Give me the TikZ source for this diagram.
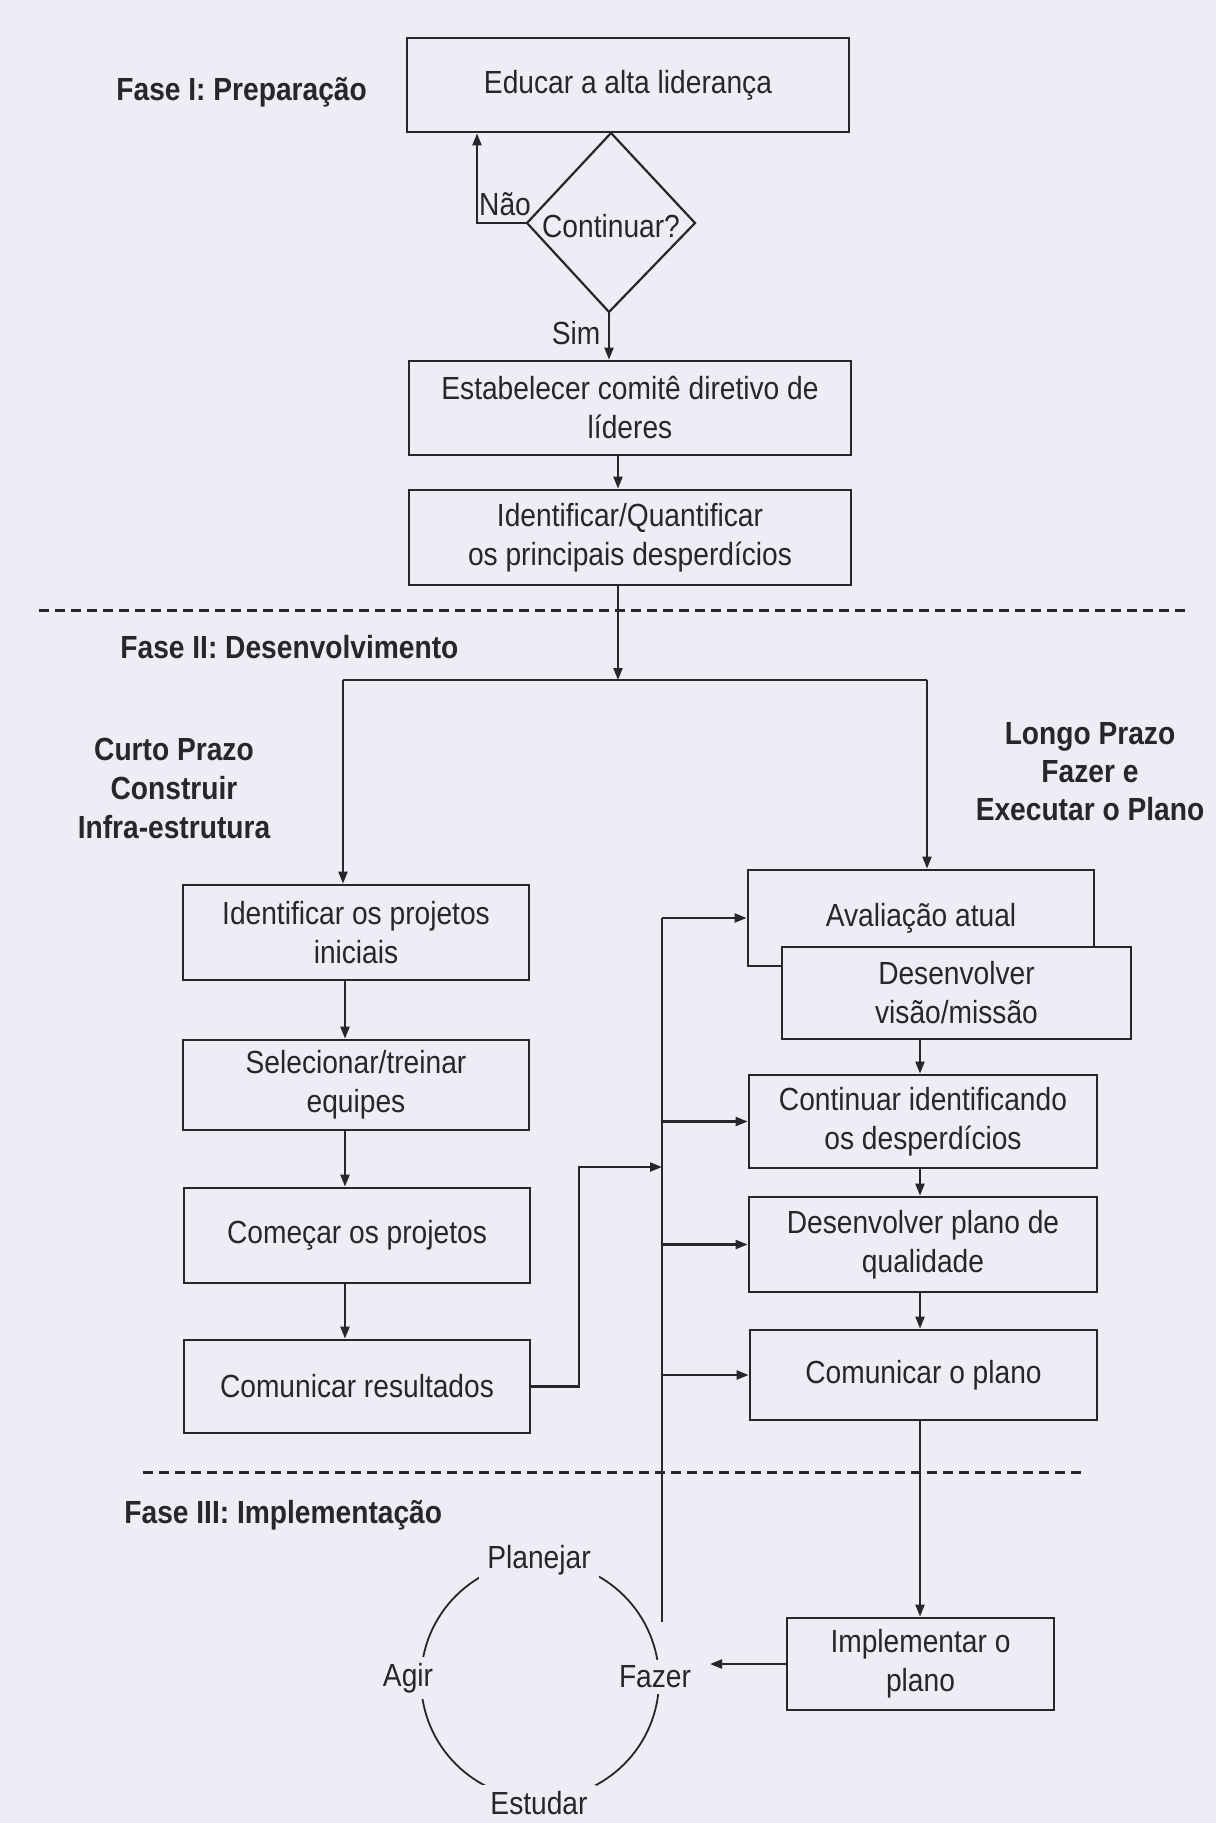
\documentclass[tikz,border=0pt]{standalone}
\usepackage{fontspec}
\setmainfont{Liberation Sans}[FakeStretch=0.88]
\usetikzlibrary{arrows.meta,calc}
\definecolor{bg}{RGB}{237,237,245}
\definecolor{ink}{RGB}{38,38,44}
\begin{document}
\begin{tikzpicture}[x=0.5pt,y=-0.5pt,
  box/.style={draw=ink, fill=bg, line width=1.4pt, align=center, inner sep=0pt, text=ink,
              font=\fontsize{16}{19.5}\selectfont},
  lbl/.style={text=ink, font=\fontsize{16}{19.5}\selectfont, inner sep=0pt, align=center},
  cyc/.style={lbl, fill=bg, inner xsep=4pt, inner ysep=3pt},
  hdr/.style={text=ink, font=\fontsize{16}{19.5}\selectfont\bfseries, inner sep=0pt, align=center},
  arr/.style={draw=ink, line width=1.1pt, -{Triangle[length=6pt,width=4.5pt]}},
  ln/.style={draw=ink, line width=1.1pt},
  sepline/.style={draw=ink, line width=1.5pt, dash pattern=on 5pt off 3pt}]

\fill[bg] (0,0) rectangle (1216,1823);
\useasboundingbox (0,0) rectangle (1216,1823);

% ---------- Fase I ----------
\node[hdr, anchor=west] (f1) at (116,92) {Fase I: Preparação};
\node[box, minimum width=221pt, minimum height=47pt] (B1) at (628,85) {Educar a alta liderança};

\coordinate (Dt) at (611,133);
\coordinate (Dr) at (695,223);
\coordinate (Db) at (609,312);
\coordinate (Dl) at (527,223);
\draw[ln, fill=bg] (Dt) -- (Dr) -- (Db) -- (Dl) -- cycle;
\node[lbl] (D) at (611,226) {Continuar?};

\node[lbl] (nao) at (505,204) {Não};
\coordinate (n1) at (477,223);
\draw[arr] (Dl) -- (n1) -- (n1 |- B1.south);

\node[lbl] (sim) at (576,333) {Sim};
\node[box, minimum width=221pt, minimum height=47pt] (B2) at (630,408)
  {Estabelecer comitê diretivo de\\líderes};
\draw[arr] (Db) -- (Db |- B2.north);

\node[box, minimum width=221pt, minimum height=47.5pt] (B3) at (630,537.5)
  {Identificar/Quantificar\\os principais desperdícios};
\coordinate (mc) at (618,0);
\draw[arr] (B2.south -| mc) -- (B3.north -| mc);

\coordinate (d1a) at (39,610);
\coordinate (d1b) at (1190,610);
\draw[sepline] (d1a) -- (d1b);

% ---------- Fase II ----------
\node[hdr, anchor=west] (f2) at (120,647) {Fase II: Desenvolvimento};
\node[hdr] (cp) at (174,788) {Curto Prazo\\Construir\\Infra-estrutura};
\node[hdr, font=\fontsize{16}{19}\selectfont\bfseries] (lp) at (1090,772)
  {Longo Prazo\\Fazer e\\Executar o Plano};

% left column
\node[box, minimum width=173pt, minimum height=47.5pt] (L1) at (356,932.5) {Identificar os projetos\\iniciais};
\node[box, minimum width=173pt, minimum height=45pt] (L2) at (356,1085) {Selecionar/treinar\\equipes};
\node[box, minimum width=173pt, minimum height=47.5pt] (L3) at (357,1235.5) {Começar os projetos};
\node[box, minimum width=173pt, minimum height=46.5pt] (L4) at (357,1386.5) {Comunicar resultados};

% right column
\node[box, minimum width=173pt, minimum height=48pt] (R1) at (921,918) {Avaliação atual};
\node[box, minimum width=174.5pt, minimum height=46pt] (R2) at (956.5,993) {Desenvolver\\visão/missão};
\node[box, minimum width=174pt, minimum height=46.5pt] (R3) at (923,1121.5) {Continuar identificando\\os desperdícios};
\node[box, minimum width=174pt, minimum height=47.5pt] (R4) at (923,1244.5) {Desenvolver plano de\\qualidade};
\node[box, minimum width=173.5pt, minimum height=45pt] (R5) at (923.5,1375) {Comunicar o plano};

% split
\coordinate (sp) at (618,680);
\coordinate (spL) at (343,680);
\coordinate (spR) at (927,680);
\draw[arr] (B3.south -| mc) -- (sp);
\draw[ln] (spL) -- (spR);
\draw[arr] (spL) -- (spL |- L1.north);
\draw[arr] (spR) -- (spR |- R1.north);

% left arrows
\coordinate (lc) at (345,0);
\draw[arr] (L1.south -| lc) -- (L2.north -| lc);
\draw[arr] (L2.south -| lc) -- (L3.north -| lc);
\draw[arr] (L3.south -| lc) -- (L4.north -| lc);

% right arrows
\coordinate (rc) at (920,0);
\draw[arr] (R2.south -| rc) -- (R3.north -| rc);
\draw[arr] (R3.south -| rc) -- (R4.north -| rc);
\draw[arr] (R4.south -| rc) -- (R5.north -| rc);

% feedback vertical line
\coordinate (vb) at (662,1622);
\coordinate (vt) at (662,918);
\draw[ln] (vb) -- (vt);
\draw[arr] (vt) -- (R1.west);
\draw[arr] (vb |- R3.west) -- (R3.west);
\draw[arr] (vb |- R4.west) -- (R4.west);
\draw[arr] (vb |- R5.west) -- (R5.west);

\coordinate (lk) at (579,1167);
\draw[arr] (L4.east) -| (lk) -- (lk -| vb);

\coordinate (d2a) at (143,1472);
\coordinate (d2b) at (1085,1472);
\draw[sepline] (d2a) -- (d2b);

% ---------- Fase III ----------
\node[hdr, anchor=west] (f3) at (124,1515) {Fase III: Implementação};

\node[box, minimum width=133.5pt, minimum height=46pt] (R6) at (920.5,1664) {Implementar o\\plano};
\draw[arr] (R5.south -| rc) -- (R6.north -| rc);

\coordinate (cc) at (540,1680);
\draw[draw=ink, line width=0.9pt] (cc) circle[radius=59.5pt];
\node[cyc] (pl) at (539,1560) {Planejar};
\node[cyc] (ag) at (408,1678) {Agir};
\node[cyc] (fz) at (655,1677) {Fazer};
\node[cyc] (es) at (539,1803) {Estudar};

\coordinate (fzt) at (710,1664);
\draw[arr] (R6.west) -- (fzt);
\end{tikzpicture}
\end{document}
